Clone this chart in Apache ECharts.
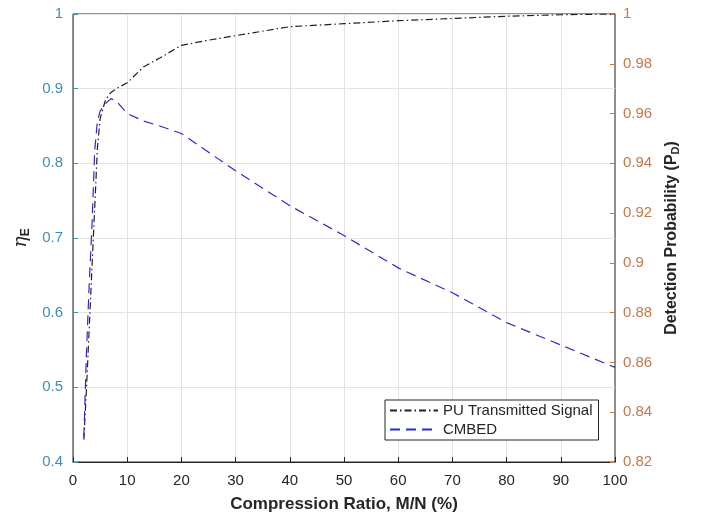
<!DOCTYPE html>
<html>
<head>
<meta charset="utf-8">
<script src="https://cdn.jsdelivr.net/npm/echarts@6/dist/echarts.min.js"></script>
<style>
html,body{margin:0;padding:0;background:#fff;}
#chart{width:702px;height:515px;}
</style>
</head>
<body>
<div id="chart"></div>
<script>
// Compression ratio (x) and values
var puX = [2, 2.5, 3, 3.5, 4, 4.5, 5, 6, 7, 8, 10, 13, 16, 20, 25, 30, 40, 50, 60, 70, 80, 90, 100];
var puY = [0.43, 0.50, 0.58, 0.66, 0.74, 0.82, 0.86, 0.885, 0.895, 0.90, 0.908, 0.929, 0.941, 0.958, 0.965, 0.971, 0.983, 0.987, 0.991, 0.994, 0.997, 0.999, 1.0];
var cmX = [2, 2.5, 3, 3.5, 4, 4.5, 5, 6, 7, 8, 10, 13, 16, 20, 30, 40, 50, 60, 70, 80, 90, 100];
var cmY = [0.83, 0.865, 0.892, 0.915, 0.945, 0.957, 0.961, 0.964, 0.966, 0.965, 0.960, 0.957, 0.955, 0.952, 0.937, 0.923, 0.911, 0.898, 0.888, 0.876, 0.867, 0.858];
var seriesNames = ['PU Transmitted Signal', 'CMBED'];

function zip(a, b) { return a.map(function (v, i) { return [v, b[i]]; }); }

var leftColor = '#3f8fb5';
var rightColor = '#c27a4c';
var font = 'Liberation Sans, Arial, sans-serif';

var chart = echarts.init(document.getElementById('chart'));
chart.setOption({
  animation: false,
  textStyle: { fontFamily: font },
  grid: { left: 73, right: 87, top: 14, bottom: 53, show: true, borderColor: '#262626', borderWidth: 1, containLabel: false, outerBoundsMode: 'none' },
  legend: {
    orient: 'vertical', left: 385, top: 400,
    backgroundColor: '#fff', borderColor: '#262626', borderWidth: 1,
    padding: [3, 6, 3, 4], itemGap: 4, itemWidth: 48, itemHeight: 16,
    itemStyle: { opacity: 0 },
    textStyle: { fontSize: 15, color: '#262626', fontFamily: font },
    data: seriesNames
  },
  xAxis: {
    type: 'value', min: 0, max: 100, interval: 10,
    name: 'Compression Ratio, M/N (%)', nameLocation: 'middle', nameGap: 34,
    nameTextStyle: { fontSize: 17, fontWeight: 'bold', color: '#262626' },
    axisLine: { lineStyle: { color: '#262626' } },
    axisTick: { inside: true, length: 5, lineStyle: { color: '#262626' } },
    axisLabel: { fontSize: 15, color: '#262626', margin: 11 },
    splitLine: { show: true, lineStyle: { color: '#e3e3e3' } }
  },
  yAxis: [{
    type: 'value', min: 0.4, max: 1, interval: 0.1, position: 'left',
    name: '{a|η}{b|E}', nameLocation: 'middle', nameGap: 39, nameRotate: 90,
    nameTextStyle: {
      rich: {
        a: { fontSize: 19, color: '#262626', fontFamily: 'DejaVu Serif', fontStyle: 'italic' },
        b: { fontSize: 12, fontWeight: 'bold', color: '#262626', verticalAlign: 'bottom', padding: [8, 0, 0, 0] }
      }
    },
    axisLine: { show: true, lineStyle: { color: leftColor } },
    axisTick: { show: true, inside: true, length: 5, lineStyle: { color: leftColor } },
    axisLabel: { fontSize: 15, color: leftColor, margin: 10 },
    splitLine: { show: true, lineStyle: { color: '#e3e3e3' } }
  }, {
    type: 'value', min: 0.82, max: 1, interval: 0.02, position: 'right',
    name: '{n|Detection Probability (P}{s|D}{n|)}', nameLocation: 'middle', nameGap: 47, nameRotate: 90,
    nameTextStyle: {
      rich: {
        n: { fontSize: 16, fontWeight: 'bold', color: '#262626' },
        s: { fontSize: 11, fontWeight: 'bold', color: '#262626', verticalAlign: 'bottom', padding: [8, 0, 0, 0] }
      }
    },
    axisLine: { show: true, lineStyle: { color: rightColor } },
    axisTick: { show: true, inside: true, length: 5, lineStyle: { color: rightColor } },
    axisLabel: { fontSize: 15, color: rightColor, margin: 8 },
    splitLine: { show: false }
  }],
  series: [{
    name: seriesNames[0], type: 'line', yAxisIndex: 0, showSymbol: false, symbol: 'none',
    data: zip(puX, puY),
    lineStyle: { color: '#222222', width: 1.2, type: [7, 3, 1.5, 3] },
    itemStyle: { color: '#222222' }
  }, {
    name: seriesNames[1], type: 'line', yAxisIndex: 1, showSymbol: false, symbol: 'none',
    data: zip(cmX, cmY),
    lineStyle: { color: '#2b2bd0', width: 1.2, type: [10, 6] },
    itemStyle: { color: '#2b2bd0' }
  }]
});
</script>
</body>
</html>
